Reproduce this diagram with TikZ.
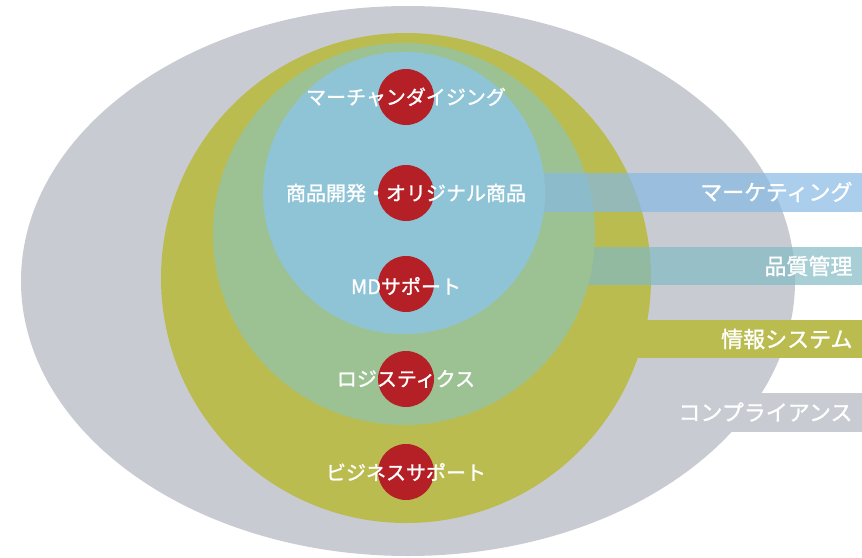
\documentclass[tikz,border=0pt]{standalone}
\usepackage{fontspec}
\newfontfamily\jpfont{Noto Sans CJK JP}[FakeBold=1.2]

\definecolor{compgrey}{RGB}{201,203,210}
\definecolor{infoolive}{RGB}{186,188,80}
\definecolor{qualgreen}{RGB}{156,194,148}
\definecolor{qualteal}{RGB}{130,186,195}
\definecolor{mdblue}{RGB}{143,196,214}
\definecolor{mktblue}{RGB}{134,185,228}
\definecolor{dotred}{RGB}{180,32,38}

\tikzset{
  dot/.style={circle, fill=dotred, minimum size=56pt, inner sep=0pt},
  item/.style={text=white, font=\jpfont\fontsize{20}{24}\selectfont},
  tag/.style={anchor=east, text=white, font=\jpfont\fontsize{22}{26}\selectfont},
}

\begin{document}
\begin{tikzpicture}[x=1pt, y=-1pt]
\useasboundingbox (0,0) rectangle (862,557);

% Compliance
\fill[compgrey] (408,393) rectangle (862,432);
\fill[compgrey] (408,281) ellipse [x radius=387, y radius=275];

% Information systems
\fill[infoolive] (406,320) rectangle (862,358);
\fill[infoolive] (406,278) circle [radius=245];

% Quality control
\fill[qualteal, opacity=0.7] (404,247) rectangle (862,285);
\fill[qualgreen] (404,234) circle [radius=191];

% Marketing
\fill[mktblue, opacity=0.7] (404,173) rectangle (862,212);
\fill[mdblue] (404,193) circle [radius=141];

% Red dots with their texts
\node[dot] (merch) at (406,97) {};
\node[dot] (product) at (406,193) {};
\node[dot] (mdsupport) at (406,284) {};
\node[dot] (logistics) at (406,379) {};
\node[dot] (business) at (406,472) {};

\node[item] at (merch) {マーチャンダイジング};
\node[item] at (product) {商品開発・オリジナル商品};
\node[item] at ([yshift=-2pt]mdsupport) {MDサポート};
\node[item] at (logistics) {ロジスティクス};
\node[item] at (business) {ビジネスサポート};

% Labels on the right
\node[tag] (marketing) at (856,192) {マーケティング};
\node[tag] (quality) at (856,266) {品質管理};
\node[tag] (infosys) at (856,339) {情報システム};
\node[tag] (compliance) at (856,412) {コンプライアンス};
\end{tikzpicture}
\end{document}
